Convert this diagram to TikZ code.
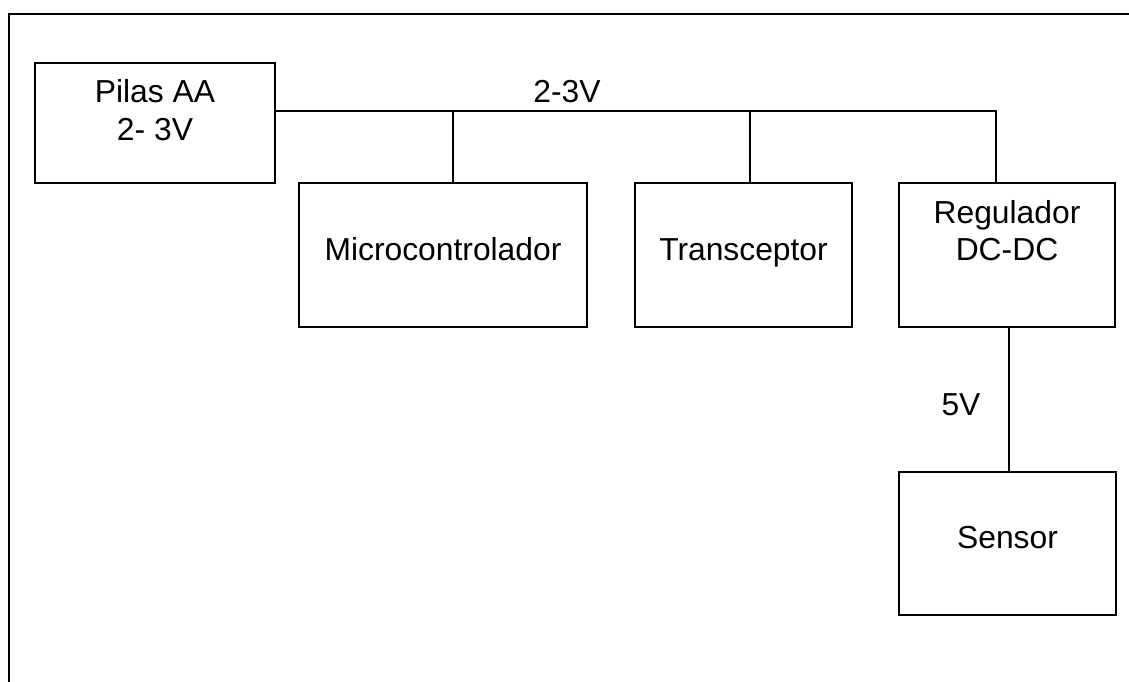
\documentclass[tikz,border=0pt]{standalone}
\usepackage{fontspec}
\setmainfont{Liberation Sans}
\begin{document}
\begin{tikzpicture}[x=1pt,y=-1pt,
  blk/.style={draw, line width=1.6pt, inner sep=0pt},
  wire/.style={line width=1.6pt},
  txt/.style={font=\fontsize{31.8}{37}\selectfont, inner sep=0pt, anchor=base}]
\useasboundingbox (0,0) rectangle (1129,682);
% page frame
\draw[line width=2.2pt] (9,682) -- (9,14) -- (1129,14);

% blocks
\node[blk, minimum width=240pt, minimum height=120pt] (pilas)  at (155,123)    {};
\node[blk, minimum width=288pt, minimum height=144pt] (micro)  at (443,255)    {};
\node[blk, minimum width=217pt, minimum height=144pt] (trans)  at (743.5,255)  {};
\node[blk, minimum width=216pt, minimum height=144pt] (reg)    at (1007,255)   {};
\node[blk, minimum width=217pt, minimum height=143pt] (sensor) at (1007.5,543.5) {};

% block texts
\node[txt] (pilas-a) at (155,103) {Pilas AA};
\node[txt] (pilas-b) at (155,140) {2- 3V};
\node[txt] (micro-t) at (443,260) {Microcontrolador};
\node[txt] (trans-t) at (743.5,260) {Transceptor};
\node[txt] (reg-a) at (1007,223) {Regulador};
\node[txt] (reg-b) at (1007,260) {DC-DC};
\node[txt] (sensor-t) at (1007.5,548) {Sensor};

% supply bus
\coordinate (busend) at (996,111);
\coordinate (tapm) at (453,111);
\coordinate (tapt) at (750,111);
\coordinate (tap5) at (1009,0);
\draw[wire] (pilas.east |- busend) -- (busend) -- (busend |- reg.north);
\draw[wire] (tapm) -- (tapm |- micro.north);
\draw[wire] (tapt) -- (tapt |- trans.north);
\draw[wire] (tap5 |- reg.south) -- (tap5 |- sensor.north);

% voltage labels
\node[txt] (v23) at (567,103) {2-3V};
\node[txt] (v5) at (961,415) {5V};
\end{tikzpicture}
\end{document}
